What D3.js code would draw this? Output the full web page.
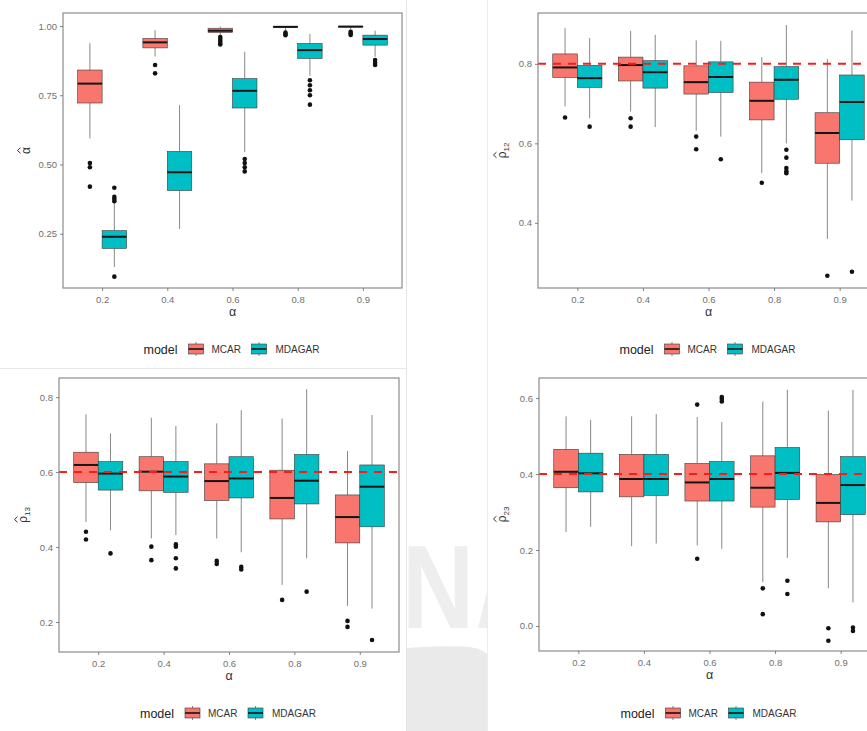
<!DOCTYPE html>
<html>
<head>
<meta charset="utf-8">
<script src="https://cdn.jsdelivr.net/npm/d3@7"></script>
<style>
  html, body { margin: 0; padding: 0; background: #ffffff; }
  svg { display: block; }
  text { font-family: "Liberation Sans", Arial, sans-serif; }
</style>
</head>
<body>
<script>
// Simulation results: boxplots of estimated parameters by true alpha and model.
const alphaLevels = ["0.2", "0.4", "0.6", "0.8", "0.9"];
const modelNames = ["MCAR", "MDAGAR"];
const modelColors = ["#F8766D", "#00BFC4"];

// Each summary: [lower whisker, Q1, median, Q3, upper whisker]
const alphaHatMCAR = [
  [0.594, 0.722, 0.792, 0.841, 0.938],
  [0.890, 0.921, 0.941, 0.955, 0.985],
  [0.966, 0.977, 0.983, 0.992, 0.998],
  [0.982, 0.994, 0.997, 0.999, 1.000],
  [0.986, 0.996, 0.998, 0.999, 1.000]
];
const alphaHatMCAROut = [
  [0.505, 0.490, 0.420],
  [0.859, 0.829],
  [0.960, 0.953, 0.946, 0.939, 0.933],
  [0.976, 0.971, 0.967],
  [0.979, 0.973, 0.968]
];
const alphaHatMDAGAR = [
  [0.130, 0.197, 0.239, 0.261, 0.360],
  [0.267, 0.406, 0.472, 0.547, 0.714],
  [0.545, 0.704, 0.766, 0.810, 0.907],
  [0.820, 0.883, 0.913, 0.937, 0.971],
  [0.889, 0.931, 0.953, 0.967, 0.983]
];
const alphaHatMDAGAROut = [
  [0.416, 0.383, 0.375, 0.367, 0.095],
  [],
  [0.520, 0.505, 0.490, 0.475],
  [0.804, 0.786, 0.768, 0.750, 0.716],
  [0.877, 0.867, 0.859]
];

const rho12MCAR = [
  [0.693, 0.766, 0.791, 0.825, 0.890],
  [0.680, 0.757, 0.797, 0.817, 0.883],
  [0.632, 0.724, 0.754, 0.795, 0.859],
  [0.525, 0.659, 0.707, 0.754, 0.817],
  [0.359, 0.550, 0.626, 0.677, 0.812]
];
const rho12MCAROut = [[0.665], [0.663, 0.642], [0.617, 0.585], [0.501], [0.267]];
const rho12MDAGAR = [
  [0.663, 0.741, 0.764, 0.796, 0.865],
  [0.641, 0.739, 0.779, 0.808, 0.873],
  [0.617, 0.728, 0.767, 0.805, 0.858],
  [0.600, 0.711, 0.760, 0.793, 0.898],
  [0.456, 0.609, 0.704, 0.772, 0.884]
];
const rho12MDAGAROut = [[0.642], [], [0.560], [0.584, 0.564, 0.538, 0.530, 0.525], [0.277]];

const rho13MCAR = [
  [0.467, 0.572, 0.619, 0.653, 0.754],
  [0.423, 0.550, 0.601, 0.641, 0.745],
  [0.423, 0.524, 0.576, 0.622, 0.730],
  [0.299, 0.475, 0.531, 0.605, 0.743],
  [0.243, 0.411, 0.480, 0.539, 0.656]
];
const rho13MCAROut = [[0.441, 0.420], [0.401, 0.365], [0.363, 0.355], [0.259], [0.203, 0.187]];
const rho13MDAGAR = [
  [0.445, 0.552, 0.596, 0.628, 0.703],
  [0.432, 0.546, 0.588, 0.628, 0.723],
  [0.386, 0.531, 0.583, 0.641, 0.765],
  [0.370, 0.515, 0.577, 0.647, 0.821],
  [0.236, 0.454, 0.561, 0.619, 0.752]
];
const rho13MDAGAROut = [[0.383], [0.407, 0.401, 0.370, 0.343], [0.347, 0.340], [0.281], [0.152]];

const rho23MCAR = [
  [0.247, 0.364, 0.406, 0.465, 0.552],
  [0.210, 0.340, 0.387, 0.452, 0.552],
  [0.212, 0.329, 0.378, 0.428, 0.550],
  [0.115, 0.313, 0.364, 0.448, 0.591],
  [0.099, 0.274, 0.324, 0.399, 0.567]
];
const rho23MCAROut = [[], [], [0.583, 0.177], [0.099, 0.031], [-0.006, -0.039]];
const rho23MDAGAR = [
  [0.261, 0.353, 0.402, 0.455, 0.543],
  [0.217, 0.344, 0.387, 0.452, 0.558],
  [0.203, 0.329, 0.387, 0.433, 0.537],
  [0.179, 0.333, 0.403, 0.470, 0.622],
  [0.062, 0.293, 0.371, 0.446, 0.622]
];
const rho23MDAGAROut = [[], [], [0.603, 0.598, 0.591], [0.119, 0.084], [-0.004, -0.013]];

// True correlation values (dashed reference lines)
const rho12True = 0.8;
const rho13True = 0.6;
const rho23True = 0.4;

// Y-axis tick values
const alphaHatTicks = [0.25, 0.50, 0.75, 1.00];
const rho12Ticks = [0.4, 0.6, 0.8];
const rho13Ticks = [0.2, 0.4, 0.6, 0.8];
const rho23Ticks = [0.0, 0.2, 0.4, 0.6];

const W = 867, H = 731;
const svg = d3.select("body").append("svg")
  .attr("width", W).attr("height", H)
  .attr("viewBox", `0 0 ${W} ${H}`);

svg.append("rect").attr("width", W).attr("height", H).attr("fill", "#ffffff");

// Background: faint page seams and a light watermark between the columns
const bg = svg.append("g");
svg.append("defs").append("clipPath").attr("id", "stripClip")
  .append("rect").attr("x", 406).attr("y", 372).attr("width", 81).attr("height", 359);
const wm = bg.append("g").attr("clip-path", "url(#stripClip)");
wm.append("text")
  .attr("transform", "translate(402,628) scale(0.84,1)")
  .attr("font-size", 119).attr("font-weight", "bold")
  .attr("fill", "#eeeeee").text("N");
wm.append("path")
  .attr("d", "M478,628 L494,628 L515,543 L499,543 Z")
  .attr("fill", "#eeeeee");
wm.append("path")
  .attr("d", "M406,731 L406,648 Q440,645 470,647 Q482,649 487,654 L487,731 Z")
  .attr("fill", "#eaeaea");
bg.append("line").attr("x1", 406.5).attr("x2", 406.5).attr("y1", 0).attr("y2", H)
  .attr("stroke", "#e4e4e4").attr("stroke-width", 1);
bg.append("line").attr("x1", 487.5).attr("x2", 487.5).attr("y1", 0).attr("y2", H)
  .attr("stroke", "#ececec").attr("stroke-width", 1);
bg.append("line").attr("x1", 0).attr("x2", 406).attr("y1", 368.5).attr("y2", 368.5)
  .attr("stroke", "#e8e8e8").attr("stroke-width", 1);

const panels = [
  { frame: { left: 63, right: 402, top: 13, bottom: 288 }, domain: [0.054, 1.047],
    ticks: alphaHatTicks, fmt: ".2f", series: [alphaHatMCAR, alphaHatMDAGAR],
    outliers: [alphaHatMCAROut, alphaHatMDAGAROut], truth: null,
    ySymbol: "α", ySub: "", yTitleX: 30, legendY: 349 },
  { frame: { left: 538, right: 879, top: 13, bottom: 288 }, domain: [0.236, 0.928],
    ticks: rho12Ticks, fmt: ".1f", series: [rho12MCAR, rho12MDAGAR],
    outliers: [rho12MCAROut, rho12MDAGAROut], truth: rho12True,
    ySymbol: "ρ", ySub: "12", yTitleX: 506, legendY: 349 },
  { frame: { left: 59, right: 399, top: 378, bottom: 652 }, domain: [0.12, 0.851],
    ticks: rho13Ticks, fmt: ".1f", series: [rho13MCAR, rho13MDAGAR],
    outliers: [rho13MCAROut, rho13MDAGAROut], truth: rho13True,
    ySymbol: "ρ", ySub: "13", yTitleX: 27, legendY: 713 },
  { frame: { left: 539, right: 880, top: 378, bottom: 651 }, domain: [-0.066, 0.653],
    ticks: rho23Ticks, fmt: ".1f", series: [rho23MCAR, rho23MDAGAR],
    outliers: [rho23MCAROut, rho23MDAGAROut], truth: rho23True,
    ySymbol: "ρ", ySub: "23", yTitleX: 506, legendY: 713 }
];

function drawPanel(p) {
  const { left, right, top, bottom } = p.frame;
  const g = svg.append("g");

  const x = d3.scalePoint().domain(alphaLevels).range([left, right]).padding(0.6);
  const step = x.step();
  const dodge = d3.scaleBand().domain(modelNames).range([-0.375 * step, 0.375 * step]);
  const bw = dodge.bandwidth();
  const y = d3.scaleLinear().domain(p.domain).range([bottom, top]);

  g.append("rect").attr("x", left).attr("y", top)
    .attr("width", right - left).attr("height", bottom - top).attr("fill", "#ffffff");

  modelNames.forEach((m, mi) => {
    const stats = p.series[mi];
    const outs = p.outliers[mi];
    const boxes = g.append("g").selectAll("g.box")
      .data(alphaLevels.map((lvl, i) => ({ lvl, s: stats[i], o: outs[i] })))
      .join("g").attr("class", "box");

    boxes.each(function (d) {
      const sel = d3.select(this);
      const cx = x(d.lvl) + dodge(m) + bw / 2;
      const [lo, q1, med, q3, hi] = d.s;
      sel.append("line").attr("x1", cx).attr("x2", cx)
        .attr("y1", y(hi)).attr("y2", y(q3))
        .attr("stroke", "#555").attr("stroke-width", 0.7);
      sel.append("line").attr("x1", cx).attr("x2", cx)
        .attr("y1", y(q1)).attr("y2", y(lo))
        .attr("stroke", "#555").attr("stroke-width", 0.7);
      sel.append("rect")
        .attr("x", cx - bw / 2).attr("width", bw)
        .attr("y", y(q3)).attr("height", Math.max(0.5, y(q1) - y(q3)))
        .attr("fill", modelColors[mi]).attr("stroke", "#3a3a3a").attr("stroke-width", 0.6);
      sel.append("line").attr("x1", cx - bw / 2).attr("x2", cx + bw / 2)
        .attr("y1", y(med)).attr("y2", y(med))
        .attr("stroke", "#151515").attr("stroke-width", 2);
      sel.selectAll("circle").data(d.o).join("circle")
        .attr("cx", cx).attr("cy", v => y(v)).attr("r", 2.3)
        .attr("fill", "#111");
    });
  });

  if (p.truth !== null) {
    g.append("line").attr("x1", left).attr("x2", right)
      .attr("y1", y(p.truth)).attr("y2", y(p.truth))
      .attr("stroke", "#ff1a1a").attr("stroke-width", 2)
      .attr("stroke-dasharray", "8,7");
  }

  g.append("rect").attr("x", left).attr("y", top)
    .attr("width", right - left).attr("height", bottom - top)
    .attr("fill", "none").attr("stroke", "#8c8c8c").attr("stroke-width", 1.2);

  const yAxis = g.append("g").attr("transform", `translate(${left},0)`)
    .call(d3.axisLeft(y).tickValues(p.ticks).tickFormat(d3.format(p.fmt))
      .tickSize(3).tickPadding(3));
  const xAxis = g.append("g").attr("transform", `translate(0,${bottom})`)
    .call(d3.axisBottom(x).tickSize(3).tickPadding(5));
  [yAxis, xAxis].forEach(a => {
    a.select(".domain").remove();
    a.selectAll(".tick line").attr("stroke", "#666").attr("stroke-width", 0.8);
    a.selectAll(".tick text").attr("fill", "#707070")
      .attr("font-size", 9.5).attr("font-family", "'Liberation Sans', Arial, sans-serif");
  });

  // axis titles
  const cxPanel = (left + Math.min(right, 880)) / 2;
  g.append("text").attr("x", (left + right) / 2).attr("y", bottom + 28)
    .attr("text-anchor", "middle").attr("font-size", 12.5).attr("fill", "#333")
    .attr("font-family", "'DejaVu Sans', sans-serif").text("α");

  // y title: symbol with a hat and optional subscript, rotated
  const yMid = (top + bottom) / 2;
  const yg = g.append("g").attr("transform", `translate(${p.yTitleX},${yMid}) rotate(-90)`);
  const yt = yg.append("text").attr("x", 0).attr("y", 0)
    .attr("font-size", 12).attr("fill", "#333")
    .attr("font-family", "'DejaVu Sans', sans-serif");
  const sym = yt.append("tspan").text(p.ySymbol);
  if (p.ySub) {
    yt.append("tspan").attr("font-size", 8).attr("dy", 3).text(p.ySub);
  }
  const total = yt.node().getComputedTextLength();
  const symW = sym.node().getComputedTextLength();
  yt.attr("x", -total / 2);
  const hx = -total / 2 + symW / 2;
  yg.append("path")
    .attr("d", `M${hx - 2.8},-9.5 L${hx},-12.5 L${hx + 2.8},-9.5`)
    .attr("fill", "none").attr("stroke", "#333").attr("stroke-width", 1);

  // legend
  const lg = g.append("g").attr("transform", `translate(${cxPanel - 89},${p.legendY})`);
  lg.append("text").attr("x", 0).attr("y", 4.5).attr("font-size", 12.5)
    .attr("fill", "#222").text("model");
  const keyX = [45, 108];
  const labX = [68, 132];
  modelNames.forEach((m, mi) => {
    const k = lg.append("g").attr("transform", `translate(${keyX[mi]},-6)`);
    k.append("line").attr("x1", 7.5).attr("x2", 7.5).attr("y1", -1).attr("y2", 13)
      .attr("stroke", "#555").attr("stroke-width", 0.7);
    k.append("rect").attr("x", 0).attr("y", 1).attr("width", 15).attr("height", 10)
      .attr("fill", modelColors[mi]).attr("stroke", "#3a3a3a").attr("stroke-width", 0.6);
    k.append("line").attr("x1", 0).attr("x2", 15).attr("y1", 6).attr("y2", 6)
      .attr("stroke", "#151515").attr("stroke-width", 1.6);
    lg.append("text").attr("x", labX[mi]).attr("y", 4).attr("font-size", 10)
      .attr("fill", "#333").text(m);
  });
}

panels.forEach(drawPanel);
</script>
</body>
</html>
